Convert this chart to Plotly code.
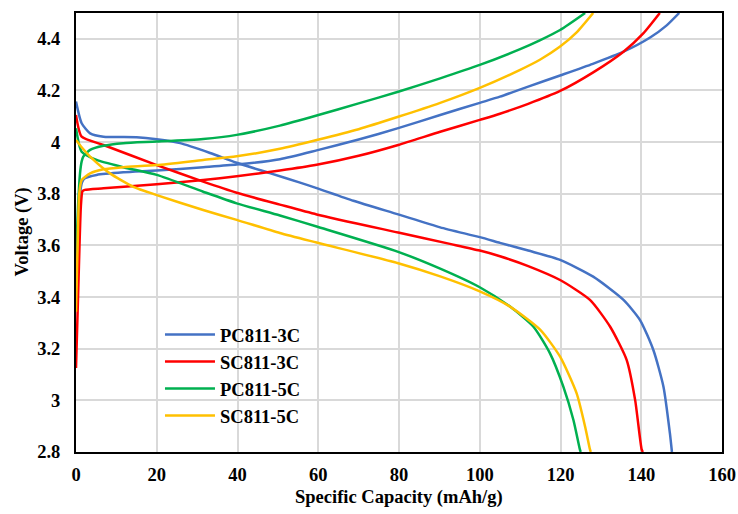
import plotly.graph_objects as go

# Specific capacity (mAh/g) and voltage (V) for each cell, charge and discharge branches
pc3_chg_x = [0, 0.5, 1.0, 1.5, 2.2, 5.1, 11.7, 20, 31.5, 39.8, 50.5, 59.6, 70, 79.8, 90.2, 100, 105, 112, 119.9, 128, 135.6, 142.2, 146.3, 149.4]
pc3_chg_v = [3.45, 3.65, 3.80, 3.845, 3.86, 3.873, 3.883, 3.89, 3.903, 3.913, 3.934, 3.968, 4.01, 4.054, 4.105, 4.152, 4.176, 4.215, 4.258, 4.303, 4.35, 4.405, 4.452, 4.5]
pc3_dis_x = [0, 1.4, 3.5, 6.8, 15, 20, 25.8, 33.2, 39.8, 48, 55.5, 59.6, 68.7, 79.8, 90.2, 100, 105, 112, 119.9, 128.1, 135.6, 139.7, 143, 145.5, 147.1, 147.6]
pc3_dis_v = [4.157, 4.073, 4.034, 4.021, 4.019, 4.011, 3.996, 3.958, 3.92, 3.88, 3.843, 3.822, 3.773, 3.72, 3.67, 3.632, 3.61, 3.58, 3.544, 3.479, 3.389, 3.311, 3.195, 3.053, 2.872, 2.8]

sc3_chg_x = [0, 0.6, 1.2, 1.6, 2.2, 6.8, 20, 31.5, 39.8, 50.5, 59.6, 70, 79.8, 90.2, 100, 105, 112, 119.9, 128.1, 135.6, 140.5, 144.6]
sc3_chg_v = [3.125, 3.45, 3.75, 3.81, 3.815, 3.821, 3.837, 3.853, 3.868, 3.89, 3.912, 3.947, 3.989, 4.04, 4.086, 4.11, 4.148, 4.198, 4.27, 4.35, 4.421, 4.5]
sc3_dis_x = [0, 1.4, 6.8, 20, 31.5, 39.8, 50.5, 59.6, 79.8, 92.6, 100, 105, 112, 119.9, 127.3, 132.3, 136.4, 138.5, 140.1, 140.4]
sc3_dis_v = [4.105, 4.021, 3.989, 3.911, 3.847, 3.804, 3.758, 3.72, 3.65, 3.606, 3.58, 3.558, 3.52, 3.466, 3.389, 3.285, 3.156, 3.0, 2.81, 2.8]

pc5_chg_x = [0, 0.5, 1.0, 1.4, 1.8, 3.5, 6.8, 11.7, 20, 31.5, 39.8, 50.5, 59.6, 70, 79.8, 90.2, 100, 110, 115, 119.9, 126.1]
pc5_chg_v = [3.55, 3.75, 3.88, 3.925, 3.944, 3.97, 3.986, 3.996, 4.002, 4.012, 4.028, 4.064, 4.103, 4.15, 4.195, 4.247, 4.299, 4.36, 4.395, 4.434, 4.5]
pc5_dis_x = [0, 1.4, 5.1, 11.7, 20, 31.5, 39.8, 50.5, 59.6, 79.8, 90.2, 100, 107.5, 113.3, 117.4, 120.7, 123.2, 124.8, 125]
pc5_dis_v = [4.054, 3.963, 3.931, 3.903, 3.873, 3.808, 3.763, 3.716, 3.673, 3.575, 3.51, 3.438, 3.363, 3.285, 3.182, 3.053, 2.924, 2.81, 2.8]

sc5_chg_x = [0, 0.4, 0.8, 1.4, 3.5, 6.8, 11.7, 20, 31.5, 39.8, 50.5, 59.6, 70, 79.8, 90.2, 100, 110, 115, 119.9, 124, 128.1]
sc5_chg_v = [3.343, 3.6, 3.8, 3.853, 3.879, 3.895, 3.903, 3.911, 3.931, 3.945, 3.974, 4.008, 4.05, 4.098, 4.152, 4.21, 4.28, 4.32, 4.37, 4.425, 4.5]
sc5_dis_x = [0, 1.4, 3.5, 8.4, 14.2, 20, 31.5, 39.8, 50.5, 59.6, 79.8, 90.2, 100, 107.5, 115, 119.9, 124, 126.1, 127.3, 127.5]
sc5_dis_v = [4.008, 3.98, 3.944, 3.879, 3.827, 3.795, 3.737, 3.699, 3.648, 3.611, 3.531, 3.48, 3.422, 3.363, 3.273, 3.169, 3.027, 2.898, 2.81, 2.8]

series_names = ["PC811-3C", "SC811-3C", "PC811-5C", "SC811-5C"]
series_colors = ["#4472C4", "#FF0000", "#00B050", "#FFC000"]
series_data = [
    (pc3_chg_x, pc3_chg_v, pc3_dis_x, pc3_dis_v),
    (sc3_chg_x, sc3_chg_v, sc3_dis_x, sc3_dis_v),
    (pc5_chg_x, pc5_chg_v, pc5_dis_x, pc5_dis_v),
    (sc5_chg_x, sc5_chg_v, sc5_dis_x, sc5_dis_v),
]

x_ticks = [0, 20, 40, 60, 80, 100, 120, 140, 160]
x_tick_text = ["0", "20", "40", "60", "80", "100", "120", "140", "160"]
y_ticks = [2.8, 3.0, 3.2, 3.4, 3.6, 3.8, 4.0, 4.2, 4.4]
y_tick_text = ["2.8", "3", "3.2", "3.4", "3.6", "3.8", "4", "4.2", "4.4"]

FONT = "Liberation Serif"
FS = 18.5


def bold(s):
    return "<b>" + s + "</b>"


fig = go.Figure()
for name, color, (cx, cv, dx, dv) in zip(series_names, series_colors, series_data):
    for i, (xs, vs) in enumerate(((cx, cv), (dx, dv))):
        fig.add_trace(go.Scatter(
            x=xs, y=vs, mode="lines", name=bold(name),
            legendgroup=name, showlegend=(i == 0),
            line=dict(color=color, width=2.5, shape="spline", smoothing=0.6),
        ))

axis_common = dict(
    showgrid=True, gridcolor="#D9D9D9", gridwidth=1.5,
    showline=True, linecolor="black", linewidth=2, mirror=True,
    zeroline=False, ticks="outside", tickcolor="rgba(0,0,0,0)",
    tickfont=dict(family=FONT, size=FS, color="black"),
    automargin=False,
)

fig.update_layout(
    width=738, height=514,
    template="none",
    paper_bgcolor="white", plot_bgcolor="white",
    margin=dict(l=76, r=16, t=13, b=62),
    font=dict(family=FONT, color="black"),
    showlegend=True,
    legend=dict(
        x=0.13, y=0.31, xanchor="left", yanchor="top",
        bgcolor="rgba(0,0,0,0)", tracegroupgap=0, itemwidth=50,
        font=dict(family=FONT, size=FS, color="black"),
    ),
    xaxis=dict(axis_common, range=[0, 160], tickvals=x_ticks,
               ticktext=[bold(t) for t in x_tick_text], ticklen=5),
    yaxis=dict(axis_common, range=[2.8, 4.5], tickvals=y_ticks,
               ticktext=[bold(t) for t in y_tick_text], ticklen=10),
    annotations=[
        dict(text=bold("Specific Capacity (mAh/g)"), xref="paper", yref="paper",
             x=0.5, y=(452 - 497) / 439, xanchor="center", yanchor="middle",
             showarrow=False, font=dict(family=FONT, size=FS, color="black")),
        dict(text=bold("Voltage (V)"), xref="paper", yref="paper", textangle=-90,
             x=(22 - 76) / 646, y=0.5, xanchor="center", yanchor="middle",
             showarrow=False, font=dict(family=FONT, size=FS, color="black")),
    ],
)

fig.write_html("out.html")
